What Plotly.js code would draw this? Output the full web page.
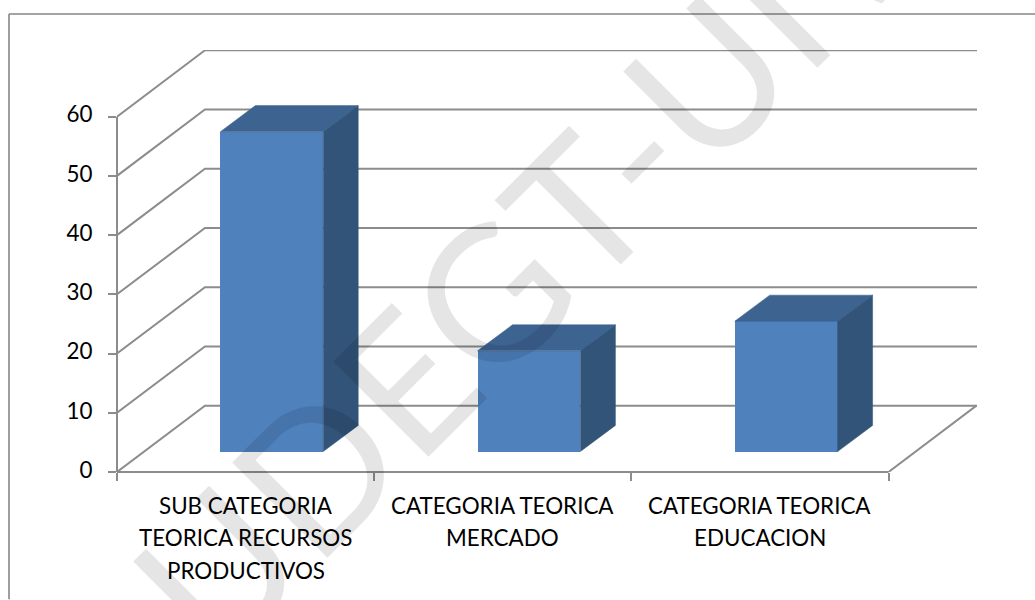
<!DOCTYPE html>
<html>
<head>
<meta charset="utf-8">
<script src="https://cdn.plot.ly/plotly-3.0.1.min.js"></script>
<style>html,body{margin:0;padding:0;background:#fff;overflow:hidden}#chart{width:1035px;height:600px}</style>
</head>
<body>
<div id="chart"></div>
<script>
const categoryLines = [
  ["SUB CATEGORIA", "TEORICA RECURSOS", "PRODUCTIVOS"],
  ["CATEGORIA TEORICA", "MERCADO"],
  ["CATEGORIA TEORICA", "EDUCACION"]
];
const values = [54, 17, 22];
const yTicks = [0, 10, 20, 30, 40, 50, 60];
const watermark = "UDEGT-UIV";

// layout geometry (pixels in the 1035x600 frame)
const L = 117, R = 977, T = 50, B = 472.5;
const xMax = 3.344, yMax = 71.25;
const px = v => (v - L) / (R - L);
const py = v => (B - v) / (B - T);

// oblique-projection depths in axis units
const wallDx = 0.342, wallDy = 11.2;
const floorDx = 0.102, floorDy = 3.46;
const depthDx = 0.136, depthDy = 4.4;
const barWidth = 0.4;
const lineColor = "#8c8c8c", lineWidth = 2;

const gridX = [], gridY = [];
yTicks.forEach(v => {
  gridX.push(0, wallDx, xMax, null);
  gridY.push(v, v + wallDy, v + wallDy, null);
});
// right floor edge
gridX.push(3, wallDx + 3, null);
gridY.push(0, wallDy, null);

const gridTrace = {
  type: "scatter", mode: "lines", x: gridX, y: gridY, xaxis: "x", yaxis: "y",
  line: {color: lineColor, width: lineWidth}, hoverinfo: "skip", showlegend: false
};

const centers = values.map((_, i) => i + 0.5 + floorDx);
const barTrace = {
  type: "bar", x: centers, y: values, base: values.map(() => floorDy), width: barWidth,
  xaxis: "x2", yaxis: "y2", marker: {color: "#4f81bd", line: {width: 0}}, showlegend: false, hoverinfo: "y"
};
const topX = [], topY = [], sideX = [], sideY = [];
values.forEach((v, i) => {
  const l = centers[i] - barWidth / 2, r = centers[i] + barWidth / 2, t = v + floorDy;
  topX.push(l, r, r + depthDx, l + depthDx, l, null);
  topY.push(t, t, t + depthDy, t + depthDy, t, null);
  sideX.push(r, r + depthDx, r + depthDx, r, r, null);
  sideY.push(floorDy, floorDy + depthDy, t + depthDy, t, floorDy, null);
});
const faceTrace = (x, y, color) => ({
  type: "scatter", mode: "lines", x, y, xaxis: "x2", yaxis: "y2", fill: "toself", fillcolor: color,
  line: {color, width: 0.5}, hoverinfo: "skip", showlegend: false
});

const lineYs = [506, 538.5, 571.5];
const annotations = [];
categoryLines.forEach((lines, i) => lines.forEach((text, j) => annotations.push({
  text, x: i + 0.5, xref: "x", y: py(lineYs[j]), yref: "paper", showarrow: false,
  xanchor: "center", yanchor: "middle", font: {family: "Lato, sans-serif", size: 22.4, color: "#000"}
})));
annotations.push({
  text: watermark, xref: "paper", yref: "paper", x: px(523), y: py(259.4), showarrow: false,
  xanchor: "center", yanchor: "middle", textangle: -45,
  font: {family: "Lato, sans-serif", size: 188, color: "rgba(0,0,0,0.1)"}
});

const layout = {
  width: 1035, height: 600, paper_bgcolor: "#fff", plot_bgcolor: "rgba(0,0,0,0)",
  margin: {l: L, r: 1035 - R, t: T, b: 600 - B, pad: 0},
  showlegend: false, bargap: 0,
  font: {family: "Lato, sans-serif", size: 22.4, color: "#000"},
  xaxis: {range: [0, xMax], tickvals: [0, 1, 2, 3], ticktext: ["", "", "", ""], ticks: "outside", ticklen: 8,
    tickcolor: lineColor, tickwidth: lineWidth, showgrid: false, zeroline: false, showline: false, fixedrange: true},
  yaxis: {range: [0, yMax], tickvals: yTicks, ticks: "outside", ticklen: 8, tickcolor: lineColor, tickwidth: lineWidth,
    showgrid: false, zeroline: false, showline: false, fixedrange: true, ticklabelstandoff: 11, ticklabelshift: -2},
  xaxis2: {range: [0, xMax], overlaying: "x", visible: false, fixedrange: true},
  yaxis2: {range: [0, yMax], overlaying: "y", visible: false, fixedrange: true},
  shapes: [
    {type: "line", xref: "paper", yref: "paper", x0: 0, x1: 0, y0: 0, y1: 60 / yMax, line: {color: lineColor, width: lineWidth}},
    {type: "line", xref: "paper", yref: "paper", x0: 0, x1: 3 / xMax, y0: 0, y1: 0, line: {color: lineColor, width: lineWidth}},
    {type: "line", xref: "paper", yref: "paper", x0: px(9), x1: px(1035), y0: py(14), y1: py(14), line: {color: "#868686", width: 1.6}},
    {type: "line", xref: "paper", yref: "paper", x0: px(9), x1: px(9), y0: py(14), y1: py(600), line: {color: "#868686", width: 1.6}}
  ],
  annotations
};

Plotly.newPlot("chart", [gridTrace, barTrace, faceTrace(topX, topY, "#3d6391"), faceTrace(sideX, sideY, "#325479")],
  layout, {displayModeBar: false, staticPlot: true});
</script>
</body>
</html>
